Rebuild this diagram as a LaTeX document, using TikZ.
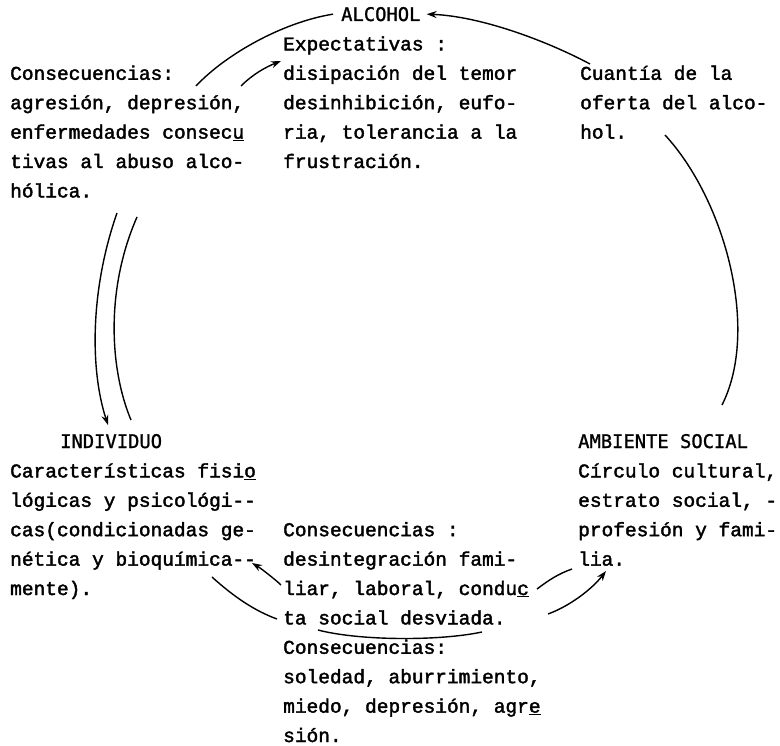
\documentclass[tikz,border=0pt]{standalone}
\usepackage{fontspec}
\usepackage{tikz}
\usetikzlibrary{arrows.meta, calc}

\newfontfamily\typewfont{Liberation Mono}[FakeBold=2]
\newfontfamily\headsans{DejaVu Sans Mono}[FakeBold=1.2]
\newcommand\bodyfont{\typewfont\fontsize{19.5pt}{29.4pt}\selectfont}
\newcommand\titlefont{\headsans\fontsize{18.8pt}{29.4pt}\selectfont}

% base of a text block = baseline of its last line
\tikzset{
  txt/.style={anchor=base west, inner sep=0pt, align=left, font=\bodyfont},
  head/.style={anchor=base west, inner sep=0pt, font=\titlefont},
  link/.style={line width=1.4pt},
}

\begin{document}
\begin{tikzpicture}[x=1pt,y=-1pt,>={Stealth[length=10pt,width=7pt]}]
  \useasboundingbox (0,0) rectangle (780,746);
  % top group
  \node[head] (alcohol) at (341,21) {ALCOHOL};
  \node[txt] (expect) at (283,168) {Expectativas :\\
    disipación del temor\\
    desinhibición, eufo-\\
    ria, tolerancia a la\\
    frustración.};
  \node[txt] (conseqL) at (10,197.4) {Consecuencias:\\
    agresión, depresión,\\
    enfermedades consec\underline{u}\\
    tivas al abuso alco-\\
    hólica.};
  \node[txt] (cuantia) at (580,138.6) {Cuantía de la\\
    oferta del alco-\\
    hol.};
  % bottom group
  \node[head] (individuo) at (60,448) {INDIVIDUO};
  \node[txt] (caract) at (10,595) {Características fisi\underline{o}\\
    lógicas y psicológi--\\
    cas(condicionadas ge-\\
    nética y bioquímica--\\
    mente).};
  \node[head] (ambiente) at (578,448) {AMBIENTE SOCIAL};
  \node[txt] (circulo) at (578,565.6) {Círculo cultural,\\
    estrato social, -\\
    profesión y fami-\\
    lia.};
  \node[txt] (conseqM) at (283,624.4) {Consecuencias :\\
    desintegración fami-\\
    liar, laboral, condu\underline{c}\\
    ta social desviada.};
  \node[txt] (conseqB) at (283,742) {Consecuencias:\\
    soledad, aburrimiento,\\
    miedo, depresión, agr\underline{e}\\
    sión.};
  %
  \coordinate (lA) at (196,86);
  \coordinate (lB) at (241,86);
  \coordinate (lC) at (281,61);
  \coordinate (cT) at (590,64);
  \coordinate (hR) at (665,135);
  \coordinate (aT) at (722,405);
  \coordinate (cR) at (537,589);
  \coordinate (lI) at (572,569);
  \coordinate (dR) at (548,614);
  \coordinate (lT) at (606,571);
  \coordinate (bT) at (252,563);
  \coordinate (bL) at (281,585);
  \coordinate (mB) at (212,577);
  \coordinate (tL) at (277,619);
  \coordinate (sL) at (318,630);
  \coordinate (sR) at (482,632);
  \coordinate (hA) at (117,213);
  \coordinate (hB) at (137,217);
  \coordinate (iA) at (108,425);
  \coordinate (iB) at (131,420);
  %
  \draw[link] (lA) .. controls +(30,-32) and +(-50,8) .. ([xshift=-8pt]alcohol.west);
  \draw[link,->] (lB) .. controls +(12,-12) and +(-15,6) .. (lC);
  \draw[link,->] (cT) .. controls +(-45,-24) and +(53,2) .. ([xshift=6pt]alcohol.east);
  \draw[link] (hR) .. controls +(60,65) and +(38,-75) .. (aT);
  \draw[link] (cR) .. controls +(12,-9) and +(-14,5) .. (lI);
  \draw[link,->] (dR) .. controls +(22,-8) and +(-14,18) .. (lT);
  \draw[link,->] (bL) .. controls +(-4,-4) and +(10,6) .. (bT);
  \draw[link] (mB) .. controls +(22,20) and +(-22,-8) .. (tL);
  \draw[link] (sL) .. controls +(42,11) and +(-42,9) .. (sR);
  \draw[link,->] (hA) .. controls +(-27,77) and +(-18,-55) .. (iA);
  \draw[link] (hB) .. controls +(-32,73) and +(-21,-50) .. (iB);
\end{tikzpicture}
\end{document}
